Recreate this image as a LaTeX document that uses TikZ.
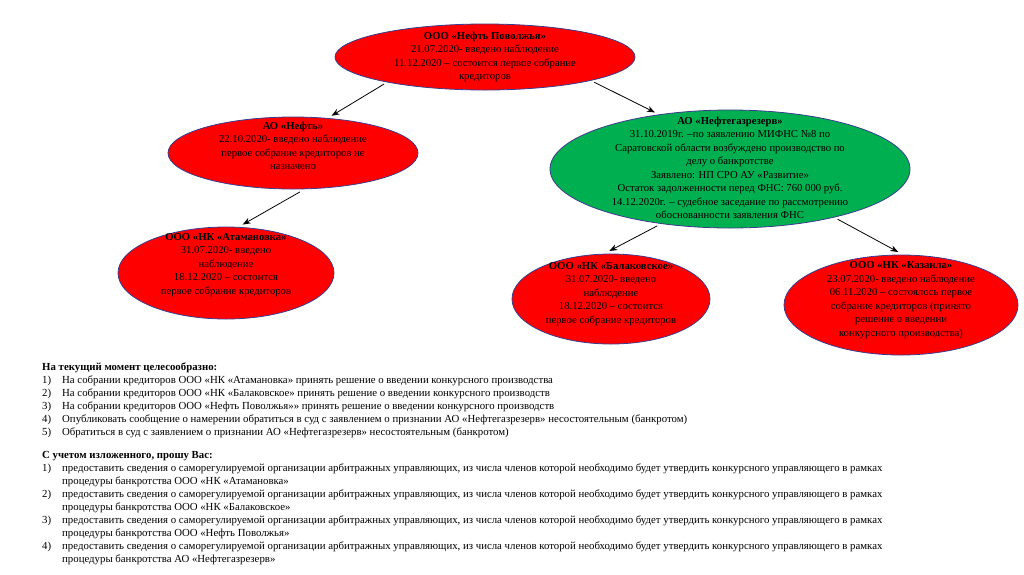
\documentclass[tikz,border=0pt]{standalone}
\usepackage{fontspec}
\setmainfont{Liberation Serif}
\usetikzlibrary{shapes.geometric}
\usetikzlibrary{arrows.meta}
\definecolor{ovalred}{HTML}{FF0000}
\definecolor{ovalgreen}{HTML}{00B050}
\definecolor{ovalline}{HTML}{3C3C8C}
\tikzset{
  oval/.style={draw=ovalline, line width=0.8pt, ellipse, inner sep=0pt, outer sep=3pt},
  redoval/.style={oval, fill=ovalred},
  greenoval/.style={oval, fill=ovalgreen},
  ovaltext/.style={align=center, font=\fontsize{10.7}{13.5}\selectfont, inner sep=0pt},
  listtext/.style={anchor=north west, inner sep=0pt, font=\fontsize{10.8}{13}\selectfont, align=left}
}
\newcommand{\itemno}[1]{\makebox[20pt][l]{#1}}

\begin{document}
\begin{tikzpicture}[x=1pt,y=-1pt,>={Stealth[length=8pt,width=6pt]}]
		\useasboundingbox (0,0) rectangle (1024,574);
		% ellipses
		\node [redoval, minimum width=300pt, minimum height=66pt] (povolzhye) at (485,57) {};
		\node [redoval, minimum width=250pt, minimum height=72pt] (neft) at (293,153) {};
		\node [greenoval, minimum width=360pt, minimum height=118pt] (rezerv) at (730,169) {};
		\node [redoval, minimum width=216pt, minimum height=92pt] (atamanovka) at (226,273) {};
		\node [redoval, minimum width=198pt, minimum height=90pt] (balakovo) at (611,299) {};
		\node [redoval, minimum width=234pt, minimum height=100pt] (kazanla) at (901,305) {};
		% texts
		\node [ovaltext] (povolzhyeT) at (485,57) {\textbf{ООО «Нефть Поволжья»}\\21.07.2020- введено наблюдение\\11.12.2020 – состоится первое собрание\\кредиторов};
		\node [ovaltext] (neftT) at (293,146) {\textbf{АО «Нефть»}\\22.10.2020- введено наблюдение\\первое собрание кредиторов не\\назначено};
		\node [ovaltext] (rezervT) at (730,168) {\textbf{АО «Нефтегазрезерв»}\\31.10.2019г. –по заявлению МИФНС №8 по\\Саратовской области возбуждено производство по\\делу о банкротстве\\Заявлено: НП СРО АУ «Развитие»\\Остаток задолженности перед ФНС: 760 000 руб.\\14.12.2020г. – судебное заседание по рассмотрению\\обоснованности заявления ФНС};
		\node [ovaltext] (atamanovkaT) at (226,265) {\textbf{ООО «НК «Атамановка»}\\31.07.2020- введено\\наблюдение\\18.12.2020 – состоится\\первое собрание кредиторов};
		\node [ovaltext] (balakovoT) at (611,294) {\textbf{ООО «НК «Балаковское»}\\31.07.2020- введено\\наблюдение\\18.12.2020 – состоится\\первое собрание кредиторов};
		\node [ovaltext] (kazanlaT) at (901,300) {\textbf{ООО «НК «Казанла»}\\23.07.2020- введено наблюдение\\06.11.2020 – состоялось первое\\собрание кредиторов (принято\\решение о введении\\конкурсного производства)};
		% arrows
		\draw [->, line width=0.8pt] (povolzhye.195) -- (neft.44);
		\draw [->, line width=0.8pt] (povolzhye.347) -- (rezerv.143);
		\draw [->, line width=0.8pt] (neft.280) -- (atamanovka.71);
		\draw [->, line width=0.8pt] (rezerv.218) -- (balakovo.92);
		\draw [->, line width=0.8pt] (rezerv.335) -- (kazanla.93);
		% lists
		\node [listtext] (advice) at (42,363) {\textbf{На текущий момент целесообразно:}\\
			\itemno{1)}На собрании кредиторов ООО «НК «Атамановка» принять решение о введении конкурсного производства\\
			\itemno{2)}На собрании кредиторов ООО «НК «Балаковское» принять решение о введении конкурсного производств\\
			\itemno{3)}На собрании кредиторов ООО «Нефть Поволжья»» принять решение о введении конкурсного производств\\
			\itemno{4)}Опубликовать сообщение о намерении обратиться в суд с заявлением о признании АО «Нефтегазрезерв» несостоятельным (банкротом)\\
			\itemno{5)}Обратиться в суд с заявлением о признании АО «Нефтегазрезерв» несостоятельным (банкротом)};
		\node [listtext] (request) at (42,451) {\textbf{С учетом изложенного, прошу Вас:}\\
			\itemno{1)}предоставить сведения о саморегулируемой организации арбитражных управляющих, из числа членов которой необходимо будет утвердить конкурсного управляющего в рамках\\
			\hspace*{20pt}процедуры банкротства ООО «НК «Атамановка»\\
			\itemno{2)}предоставить сведения о саморегулируемой организации арбитражных управляющих, из числа членов которой необходимо будет утвердить конкурсного управляющего в рамках\\
			\hspace*{20pt}процедуры банкротства ООО «НК «Балаковское»\\
			\itemno{3)}предоставить сведения о саморегулируемой организации арбитражных управляющих, из числа членов которой необходимо будет утвердить конкурсного управляющего в рамках\\
			\hspace*{20pt}процедуры банкротства ООО «Нефть Поволжья»\\
			\itemno{4)}предоставить сведения о саморегулируемой организации арбитражных управляющих, из числа членов которой необходимо будет утвердить конкурсного управляющего в рамках\\
			\hspace*{20pt}процедуры банкротства АО «Нефтегазрезерв»};
	\end{tikzpicture}
\end{document}
